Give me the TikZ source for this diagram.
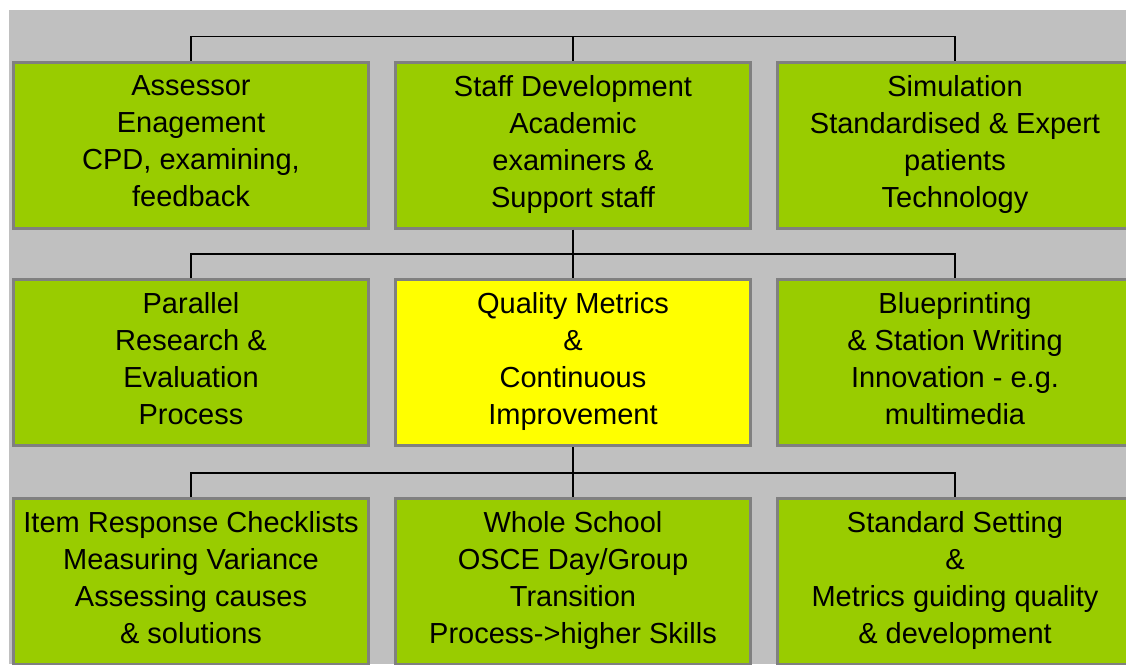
\documentclass[tikz,border=0pt]{standalone}
\usepackage{fontspec}
\setmainfont{Liberation Sans}
\definecolor{bggray}{HTML}{C0C0C0}
\definecolor{boxgreen}{HTML}{99CC00}
\definecolor{boxyellow}{HTML}{FFFF00}
\definecolor{edgegray}{HTML}{808080}
\newcommand\topstrut{\rule{0pt}{38pt}}
\newcommand\botstrut{\rule[-8pt]{0pt}{8pt}}
\tikzset{
  box/.style={draw=edgegray, line width=3pt, fill=boxgreen, minimum width=355pt,
    minimum height=166pt, align=center, font=\fontsize{29}{37}\selectfont,
    execute at begin node=\topstrut, execute at end node=\botstrut},
  link/.style={draw=black, line width=1.5pt}
}
\begin{document}
\begin{tikzpicture}[x=1pt, y=-1pt]
				\useasboundingbox (0, 0) rectangle (1126, 664);
				\clip (0, 0) rectangle (1126, 664);
				\fill[bggray] (9, 10) rectangle (1126, 664);

				\node[box] (assessor) at (191, 145) {Assessor\\Enagement\\CPD, examining,\\feedback};
				\node[box] (staff) at (573, 145) {Staff Development\\Academic\\examiners \&\\Support staff};
				\node[box] (simulation) at (955, 145) {Simulation\\Standardised \& Expert\\patients\\Technology};

				\node[box] (research) at (191, 362.5) {Parallel\\Research \&\\Evaluation\\Process};
				\node[box, fill=boxyellow] (quality) at (573, 362.5) {Quality Metrics\\\&\\Continuous\\Improvement};
				\node[box] (blueprint) at (955, 362.5) {Blueprinting\\\& Station Writing\\Innovation - e.g.\\multimedia};

				\node[box] (item) at (191, 581.5) {Item Response Checklists\\Measuring Variance\\Assessing causes\\\& solutions};
				\node[box] (school) at (573, 581.5) {Whole School\\OSCE Day/Group\\Transition\\Process->higher Skills};
				\node[box] (standard) at (955, 581.5) {Standard Setting\\\&\\Metrics guiding quality\\\& development};

				\draw[link] (assessor.north) -- ++(0, -24) -| (simulation.north);
				\draw[link] (staff.north) -- ++(0, -24);

				\draw[link] (staff.south) -- (quality.north);
				\draw[link] (research.north) -- ++(0, -24) -| (blueprint.north);

				\draw[link] (quality.south) -- (school.north);
				\draw[link] (item.north) -- ++(0, -24) -| (standard.north);
			\end{tikzpicture}
\end{document}
